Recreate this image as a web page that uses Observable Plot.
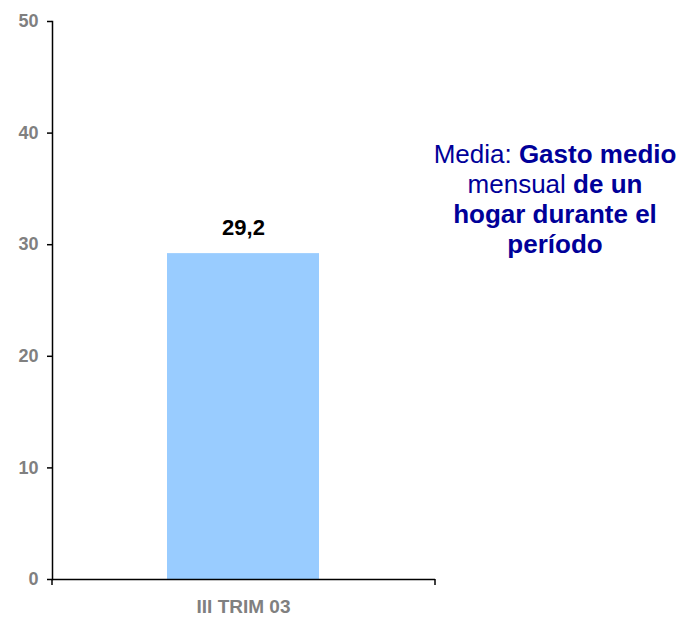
<!DOCTYPE html>
<html><head><meta charset="utf-8">
<script src="https://cdn.jsdelivr.net/npm/d3@7"></script>
<script src="https://cdn.jsdelivr.net/npm/@observablehq/plot@0.6"></script>
<style>
body{margin:0;background:#fff;font-family:Arial,"Liberation Sans",sans-serif}
#wrap{position:relative;width:682px;height:617px;overflow:hidden}
#note{position:absolute;left:415px;width:280px;top:139px;text-align:center;color:#000099;font-size:26px;line-height:30px;font-family:Arial,"Liberation Sans",sans-serif}
</style></head><body>
<div id="wrap"><div id="note">Media: <b>Gasto medio</b><br>mensual <b>de un</b><br><b>hogar durante el</b><br><b>período</b></div></div>
<script>
const categories = ["III TRIM 03"];
const values = [29.2];
const valueLabels = ["29,2"];
const yTicks = [0, 10, 20, 30, 40, 50];

const data = categories.map((c, i) => ({cat: c, value: values[i], label: valueLabels[i]}));

const chart = Plot.plot({
  width: 682, height: 617,
  marginLeft: 52, marginRight: 247, marginTop: 21, marginBottom: 38,
  style: {fontFamily: "Arial, 'Liberation Sans', sans-serif", background: "white", overflow: "visible"},
  x: {domain: categories, padding: 0.43, label: null},
  y: {domain: [0, 50], label: null},
  marks: [
    Plot.barY(data, {x: "cat", y: "value", fill: "#99CCFF"}),
    Plot.text(data, {x: "cat", y: "value", text: "label", dy: -26, fontSize: 22, fontWeight: "bold", fill: "black"}),
    Plot.axisY({ticks: yTicks, tickSize: 5, tickPadding: 9, fontSize: 18, fontWeight: "bold", fill: "#808080", stroke: "black", strokeWidth: 1.5, label: null}),
    Plot.axisX({tickSize: 0, tickPadding: 20, fontSize: 19, fontWeight: "bold", fill: "#808080", label: null}),
    Plot.frame({anchor: "left", stroke: "black", strokeWidth: 1.5}),
    Plot.ruleY([0], {stroke: "black", strokeWidth: 1.5}),
    (index, scales, values, dims) => {
      const g = d3.create("svg:g").attr("stroke", "black").attr("stroke-width", 1.5);
      const y0 = scales.y(0);
      for (const x of [dims.marginLeft, dims.width - dims.marginRight]) {
        g.append("line").attr("x1", x).attr("x2", x).attr("y1", y0).attr("y2", y0 + 6);
      }
      return g.node();
    }
  ]
});
document.getElementById("wrap").prepend(chart);
chart.style.position = "absolute";
chart.style.left = "0";
chart.style.top = "0";
</script>
</body></html>
